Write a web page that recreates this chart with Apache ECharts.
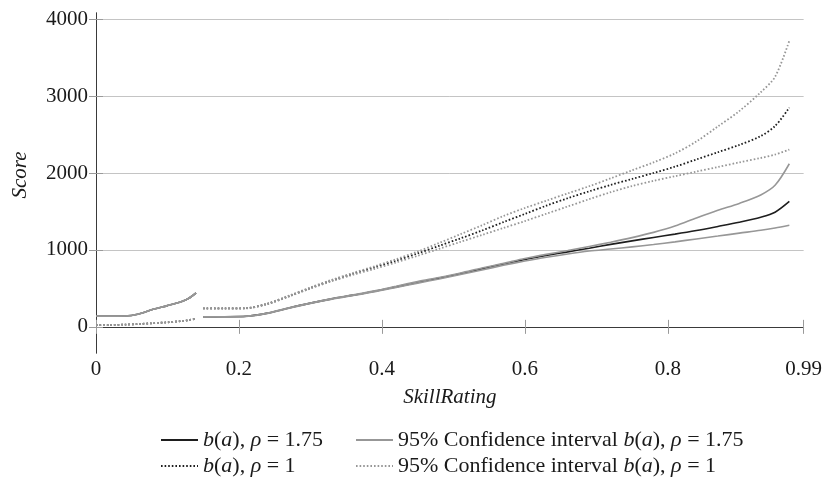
<!DOCTYPE html>
<html>
<head>
<meta charset="utf-8">
<script src="https://cdn.jsdelivr.net/npm/echarts@6/dist/echarts.min.js"></script>
<style>html,body{margin:0;padding:0;background:#fff}#c{width:825px;height:479px}</style>
</head>
<body>
<div id="c"></div>
<script>
// ---- data ----
const xLeft = [0, 0.02, 0.04, 0.06, 0.08, 0.10, 0.12, 0.13, 0.14];
const xRight = [0.15, 0.18, 0.21, 0.24, 0.27, 0.30, 0.33, 0.36, 0.39, 0.42, 0.45, 0.48, 0.51, 0.54, 0.57, 0.60, 0.63, 0.66, 0.69, 0.72, 0.75, 0.78, 0.81, 0.84, 0.87, 0.90, 0.93, 0.95, 0.97];

const left175 = [139, 139, 141, 168, 228, 276, 330, 372, 440];
const left1 = [22, 24, 29, 37, 47, 59, 76, 88, 106];

const b175 = [130, 131, 137, 178, 245, 308, 364, 412, 462, 520, 578, 633, 692, 756, 818, 875, 928, 975, 1022, 1072, 1118, 1162, 1205, 1252, 1305, 1360, 1425, 1490, 1630];
const ci175Up = [130, 132, 138, 180, 248, 311, 368, 417, 468, 528, 588, 642, 700, 765, 825, 888, 942, 992, 1045, 1100, 1160, 1228, 1310, 1415, 1515, 1605, 1715, 1840, 2120];
const ci175Lo = [130, 130, 136, 175, 242, 305, 360, 407, 456, 512, 568, 622, 680, 740, 800, 855, 905, 948, 985, 1012, 1040, 1070, 1105, 1143, 1180, 1218, 1255, 1285, 1320];

const b1 = [239, 239, 242, 300, 400, 505, 603, 690, 775, 862, 955, 1053, 1150, 1252, 1362, 1468, 1575, 1672, 1762, 1845, 1922, 2000, 2082, 2176, 2270, 2365, 2480, 2610, 2850];
const ci1Up = [240, 240, 244, 304, 406, 512, 612, 702, 788, 880, 978, 1090, 1205, 1320, 1440, 1545, 1640, 1735, 1828, 1930, 2035, 2138, 2255, 2410, 2605, 2805, 3050, 3250, 3720];
const ci1Lo = [238, 238, 240, 296, 394, 498, 594, 678, 755, 838, 925, 1015, 1105, 1195, 1285, 1375, 1470, 1565, 1660, 1750, 1830, 1898, 1958, 2018, 2078, 2138, 2195, 2240, 2305];

const xTicks = [0, 0.2, 0.4, 0.6, 0.8, 0.99];
const yTicks = [0, 1000, 2000, 3000, 4000];

const N175 = 'b(a), ρ = 1.75';
const NCI175 = '95% Confidence interval b(a), ρ = 1.75';
const N1 = 'b(a), ρ = 1';
const NCI1 = '95% Confidence interval b(a), ρ = 1';

// ---- build ----
const GAP = (xLeft[xLeft.length - 1] + xRight[0]) / 2;
function build(lv, rv) {
  const d = xLeft.map((x, i) => [x, lv[i]]);
  d.push([GAP, '-']);
  xRight.forEach((x, i) => d.push([x, rv[i]]));
  return d;
}

const FONT = 'Liberation Serif';
const TXT = '#1a1a1a';
const BLACK = '#1e1e1e';
const GRAY = '#979797';
const DOT = [1.6, 2];

function line(name, data, color, dotted) {
  return {
    type: 'line', name, data, symbol: 'none', smooth: 0.3,
    connectNulls: false, silent: true, animation: false,
    lineStyle: { color, width: dotted ? 1.8 : 1.6, type: dotted ? DOT : 'solid', cap: 'butt' },
    itemStyle: { color }
  };
}

const FS = 21;
const LFS = 22;
const rich = { i: { fontFamily: FONT, fontStyle: 'italic', fontSize: LFS, color: TXT } };
const legFmt = n => n.replace('b(a)', '{i|b}({i|a})').replace('ρ', '{i|ρ}');
function leg(name, left, top) {
  return {
    orient: 'horizontal', left, top, padding: 0, itemWidth: 37, itemHeight: 14,
    data: [name], selectedMode: false, formatter: legFmt,
    itemStyle: { opacity: 0 },
    textStyle: { fontFamily: FONT, fontSize: LFS, color: TXT, rich }
  };
}

const axisLineStyle = { show: true, lineStyle: { color: '#3a3a3a', width: 1 } };
const tickStyle = { lineStyle: { color: '#9a9a9a', width: 1 } };
const nameStyle = { fontFamily: FONT, fontStyle: 'italic', fontSize: FS, color: TXT };

const option = {
  animation: false,
  backgroundColor: '#fff',
  grid: { left: 96, right: 19, top: 13, height: 340 },
  legend: [
    leg(N175, 160, 429),
    leg(NCI175, 355, 429),
    leg(N1, 160, 455),
    leg(NCI1, 355, 455)
  ],
  xAxis: [
    {
      type: 'value', min: 0, max: 0.99, position: 'bottom',
      name: 'SkillRating', nameLocation: 'middle', nameGap: 34, nameTextStyle: nameStyle,
      axisLine: axisLineStyle,
      axisTick: Object.assign({ show: true, inside: true, length: 7, customValues: xTicks }, tickStyle),
      axisLabel: { customValues: xTicks, fontFamily: FONT, fontSize: FS, color: TXT, margin: 6 },
      splitLine: { show: false }
    },
    {
      type: 'value', min: 0, max: 0.99, position: 'top',
      axisLine: axisLineStyle,
      axisTick: Object.assign({ show: true, inside: true, length: 7, customValues: xTicks }, tickStyle),
      axisLabel: { show: false },
      splitLine: { show: false }
    }
  ],
  yAxis: [
    {
      type: 'value', min: -340, max: 4080, position: 'left',
      name: 'Score', nameLocation: 'middle', nameGap: 65, nameRotate: 90,
      nameTextStyle: Object.assign({ padding: [0, 0, 0, 16] }, nameStyle),
      axisLine: axisLineStyle,
      axisTick: Object.assign({ show: true, inside: true, length: 7, customValues: yTicks }, tickStyle),
      axisLabel: { customValues: yTicks, formatter: v => String(v), fontFamily: FONT, fontSize: FS, color: TXT, margin: 8 },
      splitLine: { show: true, lineStyle: { color: '#c4c4c4', width: 1 } }
    },
    {
      type: 'value', min: -340, max: 4080, position: 'right',
      axisLine: axisLineStyle,
      axisTick: Object.assign({ show: true, inside: true, length: 7, customValues: yTicks }, tickStyle),
      axisLabel: { show: false },
      splitLine: { show: false }
    }
  ],
  series: [
    line(N175, build(left175, b175), BLACK, false),
    line(NCI175, build(left175, ci175Up), GRAY, false),
    line(NCI175, build(left175, ci175Lo), GRAY, false),
    line(N1, build(left1, b1), BLACK, true),
    line(NCI1, build(left1, ci1Up), GRAY, true),
    line(NCI1, build(left1, ci1Lo), GRAY, true)
  ]
};

const chart = echarts.init(document.getElementById('c'), null, { renderer: 'canvas' });
chart.setOption(option);
</script>
</body>
</html>
